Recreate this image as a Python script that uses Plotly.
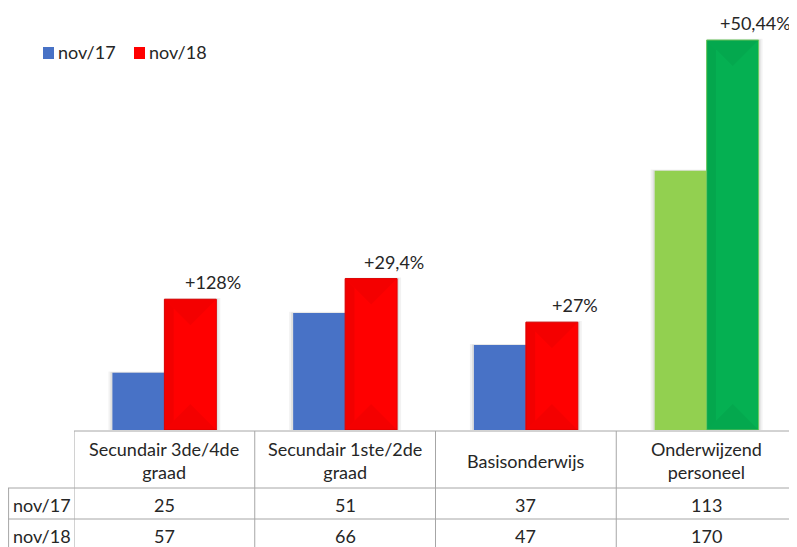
import plotly.graph_objects as go

categories = ["Secundair 3de/4de<br>graad", "Secundair 1ste/2de<br>graad", "Basisonderwijs", "Onderwijzend<br>personeel"]
series_names = ["nov/17", "nov/18"]
nov17 = [25, 51, 37, 113]
nov18 = [57, 66, 47, 170]
growth_labels = ["+128%", "+29,4%", "+27%", "+50,44%"]

colors17 = ["#4872C6", "#4872C6", "#4872C6", "#92D050"]
colors18 = ["#FF0000", "#FF0000", "#FF0000", "#05B052"]
edge18 = ["#E00000", "#E00000", "#E00000", "#6CCB5F"]
legend_colors = ["#4872C6", "#FF0000"]

# page is drawn with an 8px body margin; figure is sized to fill the window
OFF = 8
W, H = 797 - OFF, 547 - OFF
FONT = "Lato"
FS = 18
TXT = "#262626"
GRID = "#A6A6A6"

PLOT_LEFT = 66
PLOT_BOTTOM = 422          # figure px
YMAX = 183.96
BARGAP = 0.425
PX_PER_UNIT = PLOT_BOTTOM / YMAX
X_UNITS_PER_PX = len(categories) / (W - PLOT_LEFT)

def py(px):
    return 1 - px / H

def px_(x):
    return x / W

x_idx = list(range(len(categories)))

fig = go.Figure()
fig.add_trace(go.Bar(x=x_idx, y=nov17, name=series_names[0], showlegend=False,
                     marker=dict(color=colors17, line=dict(width=0))))
fig.add_trace(go.Bar(x=x_idx, y=nov18, name=series_names[1], showlegend=False,
                     marker=dict(color=colors18, line=dict(color=edge18, width=1))))

shapes = []
annotations = []

bw = (1 - BARGAP) / 2
depth = (bw / X_UNITS_PER_PX) / 2 / PX_PER_UNIT

# soft shadows behind bar pairs (derived from the data values)
for i, (a, b) in enumerate(zip(nov17, nov18)):
    for grow, alpha in ((4, 0.05), (2, 0.08)):
        g = grow * X_UNITS_PER_PX
        dy = grow * 0.3 / PX_PER_UNIT
        shapes.append(dict(type="path", xref="x", yref="y", layer="below",
                           path=(f"M{i - bw - g},0 L{i - bw - g},{a + dy} "
                                 f"L{i},{a + dy} L{i},{b + dy} "
                                 f"L{i + bw + g},{b + dy} L{i + bw + g},0 Z"),
                           fillcolor=f"rgba(0,0,0,{alpha})", line=dict(width=0)))

# bevel facets on the second series
for i, v in enumerate(nov18):
    xl, xr = i, i + bw
    xc = (xl + xr) / 2
    shapes.append(dict(type="path", xref="x", yref="y", layer="above",
                       path=f"M{xl},{v} L{xr},{v} L{xc},{v - depth} Z",
                       fillcolor="rgba(0,0,0,0.045)", line=dict(width=0)))
    shapes.append(dict(type="path", xref="x", yref="y", layer="above",
                       path=f"M{xl},0 L{xr},0 L{xc},{depth} Z",
                       fillcolor="rgba(0,0,0,0.045)", line=dict(width=0)))
    shapes.append(dict(type="path", xref="x", yref="y", layer="above",
                       path=f"M{xl},0 L{xl},{v} L{xl + bw * 0.18},{v - depth * 0.36} L{xl + bw * 0.18},{depth * 0.36} Z",
                       fillcolor="rgba(0,0,0,0.05)", line=dict(width=0)))

# growth labels above second bar
for i, (v, lab) in enumerate(zip(nov18, growth_labels)):
    annotations.append(dict(x=i + bw / 2, y=v, xref="x", yref="y", text=lab, showarrow=False,
                            xanchor="center", yanchor="bottom", xshift=23, yshift=4,
                            font=dict(family=FONT, size=FS, color=TXT)))

# table
header_top, header_bot, row1_bot = 423, 480, 511
line = dict(color=GRID, width=1)
shapes.append(dict(type="line", xref="x", yref="paper", x0=-0.5, x1=len(categories) - 0.5,
                   y0=py(header_top), y1=py(header_top), line=line))
for yy in (header_bot, row1_bot):
    shapes.append(dict(type="line", xref="paper", yref="paper", x0=0, x1=1,
                       y0=py(yy), y1=py(yy), line=line))
for k in range(len(categories)):
    shapes.append(dict(type="line", xref="x", yref="paper", x0=k - 0.5, x1=k - 0.5,
                       y0=py(header_top), y1=0, line=line))
shapes.append(dict(type="line", xref="paper", yref="paper", x0=0.6 / W, x1=0.6 / W,
                   y0=py(header_bot), y1=0, line=line))

rows = [(nov17, (header_bot + row1_bot) / 2 + 1), (nov18, row1_bot + 16.5)]
for i, cat in enumerate(categories):
    annotations.append(dict(x=i, y=py((header_top + header_bot) / 2 + 1), xref="x", yref="paper",
                            text=cat, showarrow=False, xanchor="center", yanchor="middle",
                            font=dict(family=FONT, size=FS, color=TXT)))
    for vals, yc in rows:
        annotations.append(dict(x=i, y=py(yc), xref="x", yref="paper",
                                text=str(vals[i]), showarrow=False, xanchor="center",
                                yanchor="middle", font=dict(family=FONT, size=FS, color=TXT)))
for name, (_, yc) in zip(series_names, rows):
    annotations.append(dict(x=px_(3), y=py(yc), xref="paper", yref="paper",
                            text=name, showarrow=False, xanchor="left", yanchor="middle",
                            font=dict(family=FONT, size=FS, color=TXT)))

# legend keys
legend_x = [35, 126]
for name, col, lx in zip(series_names, legend_colors, legend_x):
    shapes.append(dict(type="rect", xref="paper", yref="paper",
                       x0=px_(lx), x1=px_(lx + 11), y0=py(39), y1=py(51),
                       fillcolor=col, line=dict(width=0)))
    annotations.append(dict(x=px_(lx + 13), y=py(44), xref="paper", yref="paper",
                            text=name, showarrow=False, xanchor="left", yanchor="middle",
                            font=dict(family=FONT, size=FS, color=TXT)))

fig.update_layout(
    width=W, height=H,
    margin=dict(l=0, r=0, t=0, b=0),
    paper_bgcolor="white", plot_bgcolor="white",
    barmode="group", bargap=BARGAP, bargroupgap=0,
    showlegend=False,
    xaxis=dict(domain=[PLOT_LEFT / W, 1], range=[-0.5, len(categories) - 0.5],
               showticklabels=False, showgrid=False, zeroline=False, showline=False),
    yaxis=dict(domain=[py(PLOT_BOTTOM), 1], range=[0, YMAX], showticklabels=False,
               showgrid=False, zeroline=False, showline=False),
    shapes=shapes, annotations=annotations,
)

fig.write_html("out.html")
